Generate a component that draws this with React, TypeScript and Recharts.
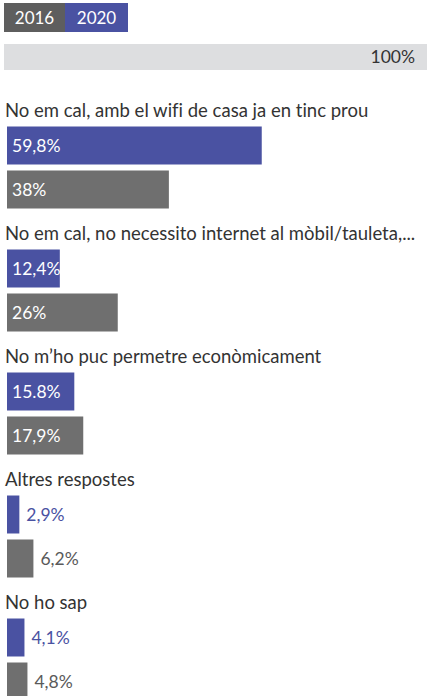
import React from "react"
import { Bar, BarChart, LabelList, XAxis, YAxis } from "recharts"

const categories = [
  "No em cal, amb el wifi de casa ja en tinc prou",
  "No em cal, no necessito internet al mòbil/tauleta,...",
  "No m’ho puc permetre econòmicament",
  "Altres respostes",
  "No ho sap",
]
const values2020 = [59.8, 12.4, 15.8, 2.9, 4.1]
const values2016 = [38, 26, 17.9, 6.2, 4.8]
const labels2020 = ["59,8%", "12,4%", "15.8%", "2,9%", "4,1%"]
const labels2016 = ["38%", "26%", "17,9%", "6,2%", "4,8%"]
const totalValue = [100]
const totalLabel = ["100%"]
const series = ["2016", "2020"]

const BLUE = "#4a52a2"
const GRAY = "#6f6f6f"
const LEGEND_GRAY = "#5e5e5e"
const FONT = "Lato, 'Open Sans', sans-serif"

const data = categories.map((name, i) => ({
  name,
  v2020: values2020[i],
  v2016: values2016[i],
  l2020: labels2020[i],
  l2016: labels2016[i],
}))

const totalData = totalValue.map((v, i) => ({ name: "total", value: v, label: totalLabel[i] }))

const noLig = { fontVariantLigatures: "none" } as React.CSSProperties

const valueLabel = (outsideColor: string) => (props: any) => {
  const { x, y, width, height, value } = props
  const inside = width > 40
  return (
    <text
      x={inside ? x + 5 : x + width + 7}
      y={y + height / 2 + 6}
      fill={inside ? "#fff" : outsideColor}
      fontSize={17.5}
      fontFamily={FONT}
      style={noLig}
    >
      {value}
    </text>
  )
}

const nameLabel = (props: any) => {
  const { x, y, value } = props
  return (
    <text x={x - 2} y={y - 10} fill="#333" fontSize={18.5} fontFamily={FONT} style={noLig}>
      {value}
    </text>
  )
}

const totalLabelRender = (props: any) => {
  const { x, y, width, height, value } = props
  return (
    <text x={x + width - 15} y={y + height / 2 + 6} textAnchor="end" fill="#333" fontSize={17.5} fontFamily={FONT}>
      {value}
    </text>
  )
}

export default function App() {
  return (
    <div
      style={{
        position: "absolute",
        left: 0,
        top: 0,
        width: 427,
        height: 696,
        overflow: "hidden",
        fontFamily: FONT,
        background: "#fff",
      }}
    >
      <div style={{ position: "absolute", left: 4, top: 3, display: "flex" }}>
        {series.map((s) => (
          <div
            key={s}
            style={{
              width: s === "2016" ? 61 : 63,
              height: 29,
              lineHeight: "29px",
              textAlign: "center",
              color: "#fff",
              fontSize: 17,
              background: s === "2016" ? LEGEND_GRAY : BLUE,
            }}
          >
            {s}
          </div>
        ))}
      </div>

      <div style={{ position: "absolute", left: 0, top: 43 }}>
        <BarChart layout="vertical" width={440} height={29} data={totalData} margin={{ top: 0, left: 4, right: 10, bottom: 0 }}>
          <XAxis type="number" domain={[0, 100]} hide />
          <YAxis type="category" dataKey="name" hide />
          <Bar dataKey="value" fill="#dddee0" barSize={29} isAnimationActive={false}>
            <LabelList dataKey="label" content={totalLabelRender} />
          </Bar>
        </BarChart>
      </div>

      <div style={{ position: "absolute", left: 0, top: 0 }}>
        <BarChart
          layout="vertical"
          width={440}
          height={720.5}
          data={data}
          barGap={6}
          margin={{ top: 105.5, left: 7, right: 7, bottom: 0 }}
        >
          <XAxis type="number" domain={[0, 100]} hide />
          <YAxis type="category" dataKey="name" hide />
          <Bar dataKey="v2020" fill={BLUE} barSize={38} isAnimationActive={false}>
            <LabelList dataKey="name" content={nameLabel} />
            <LabelList dataKey="l2020" content={valueLabel(BLUE)} />
          </Bar>
          <Bar dataKey="v2016" fill={GRAY} barSize={38} isAnimationActive={false}>
            <LabelList dataKey="l2016" content={valueLabel("#5a5a5a")} />
          </Bar>
        </BarChart>
      </div>
    </div>
  )
}
